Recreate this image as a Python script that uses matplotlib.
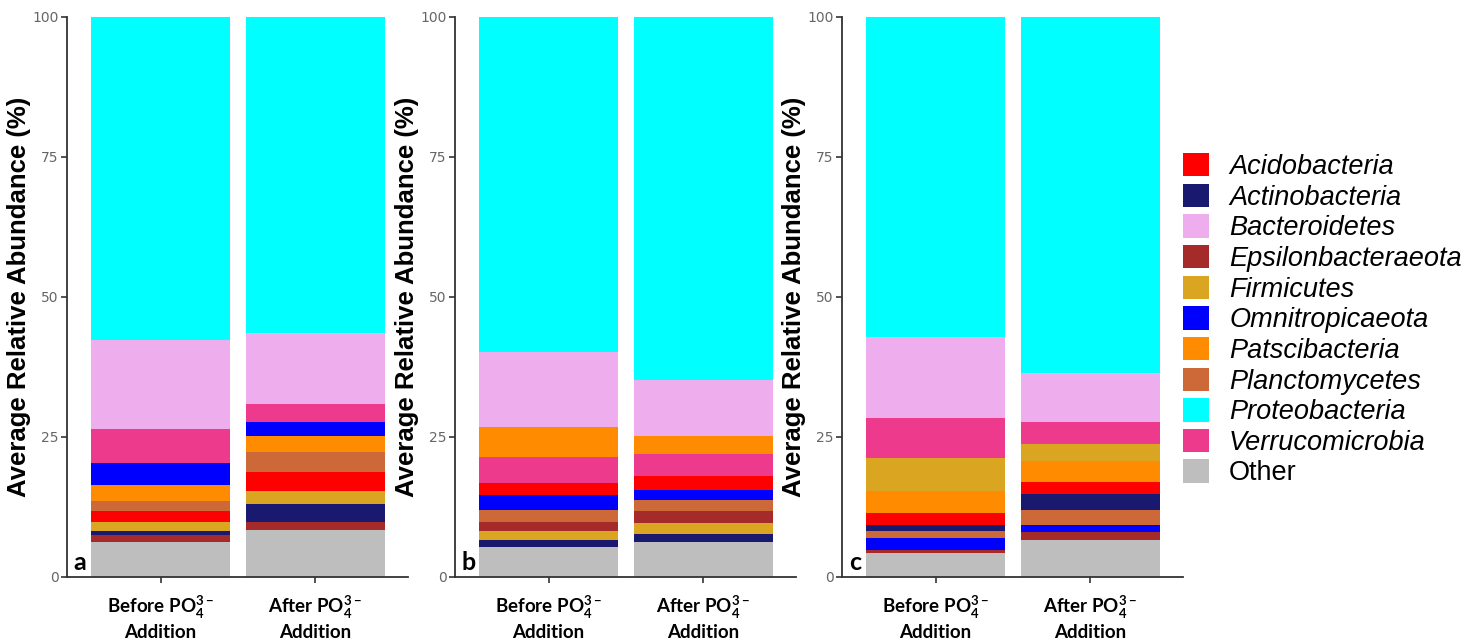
import matplotlib
matplotlib.use('Agg')
from matplotlib import pyplot as plt
from matplotlib.patches import Patch

# phyla in legend order
phyla = ['Acidobacteria', 'Actinobacteria', 'Bacteroidetes', 'Epsilonbacteraeota',
         'Firmicutes', 'Omnitropicaeota', 'Patscibacteria', 'Planctomycetes',
         'Proteobacteria', 'Verrucomicrobia', 'Other']
colors = ['#FF0000', '#191970', '#EEAEEE', '#A52A2A', '#DAA520', '#0000FF',
          '#FF8C00', '#CD6839', '#00FFFF', '#EE3A8C', '#BEBEBE']

groups = ['Before PO$_\\mathbf{4}^\\mathbf{3-}$\nAddition',
          'After PO$_\\mathbf{4}^\\mathbf{3-}$\nAddition']

# average relative abundance (%), same order as phyla
a_before = [1.9, 0.8, 16.0, 1.2, 1.5, 4.0, 2.9, 1.8, 57.6, 6.0, 6.3]
a_after = [3.45, 3.2, 12.7, 1.4, 2.3, 2.4, 2.8, 3.65, 56.4, 3.3, 8.4]
b_before = [2.1, 1.2, 13.4, 1.7, 1.6, 2.6, 5.4, 2.1, 59.8, 4.7, 5.4]
b_after = [2.6, 1.4, 9.9, 2.0, 2.0, 1.75, 3.3, 2.05, 64.9, 3.8, 6.3]
c_before = [2.2, 1.1, 14.35, 0.6, 5.8, 2.0, 3.9, 1.3, 57.2, 7.25, 4.3]
c_after = [2.2, 2.9, 8.9, 1.45, 2.95, 1.3, 3.8, 2.6, 63.5, 3.85, 6.55]

# stacking order (bottom -> top) for each panel
order_a = ['Other', 'Epsilonbacteraeota', 'Actinobacteria', 'Firmicutes', 'Acidobacteria',
           'Planctomycetes', 'Patscibacteria', 'Omnitropicaeota', 'Verrucomicrobia',
           'Bacteroidetes', 'Proteobacteria']
order_b = ['Other', 'Actinobacteria', 'Firmicutes', 'Epsilonbacteraeota', 'Planctomycetes',
           'Omnitropicaeota', 'Acidobacteria', 'Verrucomicrobia', 'Patscibacteria',
           'Bacteroidetes', 'Proteobacteria']
order_c = ['Other', 'Epsilonbacteraeota', 'Omnitropicaeota', 'Planctomycetes', 'Actinobacteria',
           'Acidobacteria', 'Patscibacteria', 'Firmicutes', 'Verrucomicrobia',
           'Bacteroidetes', 'Proteobacteria']

panels = [('a', a_before, a_after, order_a),
          ('b', b_before, b_after, order_b),
          ('c', c_before, c_after, order_c)]

plt.rcParams['mathtext.fontset'] = 'custom'
plt.rcParams['mathtext.bf'] = 'Lato:bold'
plt.rcParams['mathtext.rm'] = 'Lato:bold'

W, H = 1468, 643
fig = plt.figure(figsize=(W / 100, H / 100), dpi=100)

lefts = [67, 455, 842]
for (letter, before, after, order), x0 in zip(panels, lefts):
    ax = fig.add_axes([x0 / W, 1 - 577 / H, 341 / W, 560 / H])
    for i, vals in enumerate([before, after]):
        bottom = 0
        for name in order:
            k = phyla.index(name)
            ax.bar(i, vals[k], width=0.9, bottom=bottom, color=colors[k], linewidth=0)
            bottom += vals[k]
    ax.set_xlim(-0.605, 1.6)
    ax.set_ylim(0, 100)
    ax.set_yticks([0, 25, 50, 75, 100])
    ax.set_xticks([0, 1])
    ax.set_xticklabels(groups, fontsize=13.5, fontweight='bold', family='Lato',
                       linespacing=1.2)
    ax.tick_params(axis='y', labelsize=10, colors='#333333', labelcolor='#666666',
                   length=4, width=1.2, pad=2)
    ax.tick_params(axis='x', length=4, width=1.2, colors='#333333', labelcolor='black', pad=8)
    for s in ['top', 'right']:
        ax.spines[s].set_visible(False)
    for s in ['left', 'bottom']:
        ax.spines[s].set_color('#333333')
        ax.spines[s].set_linewidth(1.3)
    ax.set_ylabel('Average Relative Abundance (%)', fontsize=18.5, fontweight='bold',
                  family='Liberation Sans', labelpad=1)
    ax.text(-0.52, 0.6, letter, fontsize=18, fontweight='bold', family='Lato',
            ha='center', va='bottom')

handles = [Patch(facecolor=c, edgecolor='none') for c in colors]
leg = fig.legend(handles, phyla, loc='upper left', bbox_to_anchor=(1183 / W, 1 - 153 / H),
                 frameon=False, handlelength=0.95, handleheight=0.95,
                 handletextpad=0.75, labelspacing=0.135, borderpad=0, borderaxespad=0,
                 prop={'family': 'Liberation Sans', 'size': 19.5})
for t in leg.get_texts():
    if t.get_text() != 'Other':
        t.set_style('italic')

fig.savefig('out.png', dpi=100)
